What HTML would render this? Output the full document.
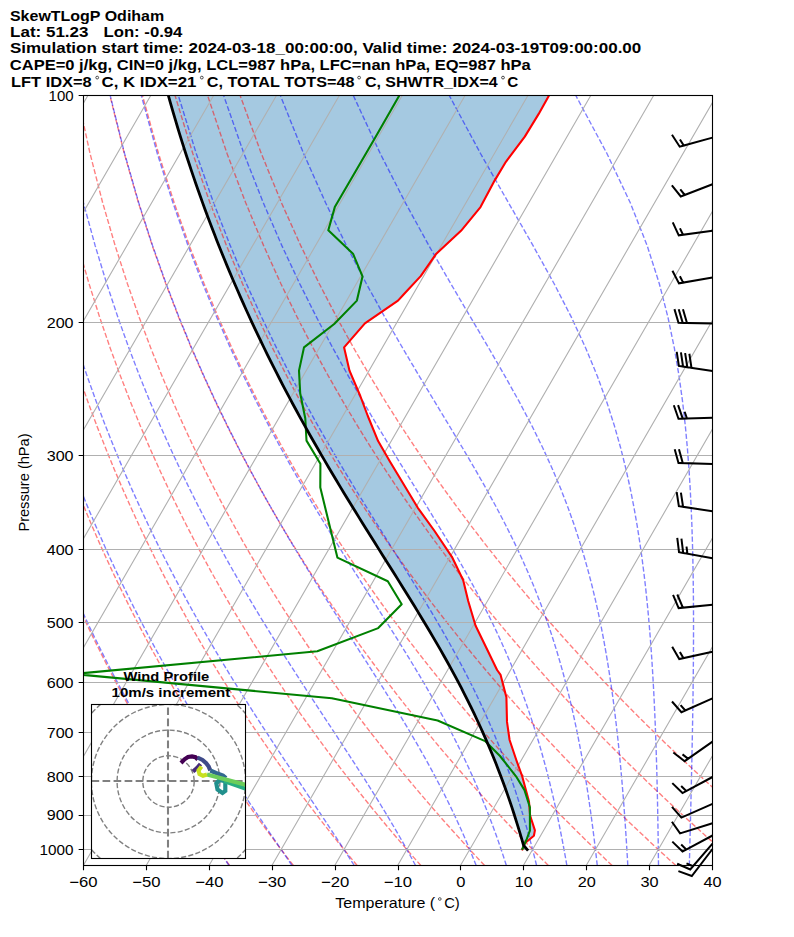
<!DOCTYPE html><html><head><meta charset="utf-8"><style>html,body{margin:0;padding:0;background:#fff;width:794px;height:937px;overflow:hidden}</style></head><body><svg width="794" height="937" viewBox="0 0 794 937" style="position:absolute;left:0;top:0"><defs><clipPath id="ax"><rect x="83.5" y="95.5" width="629" height="770"/></clipPath><clipPath id="hx"><rect x="91.5" y="704.5" width="154" height="154"/></clipPath></defs><rect width="794" height="937" fill="#fff"/><g clip-path="url(#ax)"><polygon points="549.3,95 538.7,113.9 524.8,136.6 505.9,161.8 494.6,180.6 480.5,207.1 461,230.8 435.8,254.3 420.7,276.1 403.6,294.5 398,300.6 364.9,323.4 344.1,347.4 349.5,370.7 360.3,396 367.8,416 378.1,441.1 389.9,461.5 417.8,507.8 434.2,530.5 451.9,556.8 463.2,580.2 468.2,601 475.5,625.5 497.1,670 500.6,674.9 506.4,697.3 507,721.9 509.6,740 516.3,760 520.5,771.7 522.1,776 529,801.6 530.1,815.5 534.9,830.4 533.9,835.7 524.8,843.2 522.4,849.4 527.18,849.52 523.49,845.24 521.69,838.94 519.83,832.64 517.93,826.34 515.97,820.04 513.97,813.74 511.91,807.44 509.79,801.14 507.62,794.84 505.39,788.53 503.1,782.23 500.75,775.93 498.34,769.63 495.87,763.33 493.34,757.03 490.74,750.73 488.08,744.43 485.35,738.13 482.56,731.83 479.71,725.53 476.78,719.23 473.8,712.93 470.75,706.63 467.63,700.33 464.45,694.03 461.21,687.73 457.9,681.43 454.54,675.13 451.12,668.83 447.64,662.53 444.11,656.23 440.53,649.93 436.9,643.63 433.22,637.33 429.5,631.03 425.75,624.73 421.95,618.43 418.12,612.13 414.27,605.83 410.38,599.53 406.48,593.23 402.56,586.92 398.62,580.62 394.67,574.32 390.71,568.02 386.74,561.72 382.78,555.42 378.81,549.12 374.85,542.82 370.9,536.52 366.96,530.22 363.03,523.92 359.11,517.62 355.21,511.32 351.33,505.02 347.47,498.72 343.63,492.42 339.82,486.12 336.03,479.82 332.27,473.52 328.54,467.22 324.84,460.92 321.17,454.62 317.53,448.32 313.92,442.02 310.34,435.72 306.8,429.42 303.29,423.12 299.81,416.82 296.37,410.52 292.96,404.22 289.59,397.92 286.25,391.61 282.95,385.31 279.69,379.01 276.46,372.71 273.27,366.41 270.11,360.11 266.99,353.81 263.9,347.51 260.85,341.21 257.83,334.91 254.85,328.61 251.91,322.31 249,316.01 246.13,309.71 243.29,303.41 240.49,297.11 237.72,290.81 234.99,284.51 232.29,278.21 229.62,271.91 226.99,265.61 224.4,259.31 221.84,253.01 219.31,246.71 216.82,240.41 214.36,234.11 211.93,227.81 209.54,221.51 207.18,215.21 204.85,208.91 202.55,202.61 200.29,196.31 198.06,190 195.86,183.7 193.69,177.4 191.56,171.1 189.46,164.8 187.38,158.5 185.34,152.2 183.34,145.9 181.36,139.6 179.41,133.3 177.49,127 175.61,120.7 173.75,114.4 171.93,108.1 170.13,101.8 168.36,95.5" fill="#1f77b4" fill-opacity="0.4"/><polyline points="229.63,865.5 225.26,859.4 220.86,853.18 216.41,846.84 211.91,840.37 207.38,833.78 202.8,827.05 198.18,820.18 193.51,813.16 188.79,805.99 184.03,798.65 179.21,791.15 174.35,783.48 169.43,775.61 164.46,767.56 159.43,759.3 154.35,750.83 149.2,742.13 144,733.2 138.73,724.02 133.4,714.57 128.01,704.84 122.55,694.81 117.01,684.46 111.41,673.78 105.73,662.74 99.97,651.31 94.14,639.47 88.22,627.18 82.22,614.42 76.14,601.14 69.96,587.29 63.69,572.84 57.34,557.72 50.88,541.86 44.33,525.2 37.68,507.64 30.93,489.09 24.08,469.43 17.13,448.51 10.08,426.16 2.95,402.17 -4.25,376.29 -11.52,348.18 -18.82,317.43 -26.1,283.5 -33.31,245.63 -40.32,202.81 -46.95,153.53 -52.87,95.5" fill="none" stroke="#ff0000" stroke-opacity="0.5" stroke-width="1.39" stroke-dasharray="5.14,2.22"/><polyline points="293.38,865.5 288.67,859.4 283.92,853.18 279.12,846.84 274.27,840.37 269.38,833.78 264.44,827.05 259.45,820.18 254.41,813.16 249.31,805.99 244.16,798.65 238.95,791.15 233.69,783.48 228.36,775.61 222.98,767.56 217.53,759.3 212.02,750.83 206.44,742.13 200.79,733.2 195.07,724.02 189.28,714.57 183.41,704.84 177.47,694.81 171.44,684.46 165.33,673.78 159.13,662.74 152.85,651.31 146.47,639.47 140,627.18 133.42,614.42 126.75,601.14 119.97,587.29 113.07,572.84 106.07,557.72 98.94,541.86 91.7,525.2 84.32,507.64 76.82,489.09 69.19,469.43 61.43,448.51 53.53,426.16 45.5,402.17 37.34,376.29 29.07,348.18 20.7,317.43 12.26,283.5 3.81,245.63 -4.56,202.81 -12.7,153.53 -20.31,95.5" fill="none" stroke="#ff0000" stroke-opacity="0.5" stroke-width="1.39" stroke-dasharray="5.14,2.22"/><polyline points="357.12,865.5 352.07,859.4 346.98,853.18 341.83,846.84 336.63,840.37 331.39,833.78 326.08,827.05 320.72,820.18 315.3,813.16 309.83,805.99 304.29,798.65 298.69,791.15 293.03,783.48 287.3,775.61 281.5,767.56 275.63,759.3 269.69,750.83 263.68,742.13 257.59,733.2 251.41,724.02 245.16,714.57 238.82,704.84 232.39,694.81 225.87,684.46 219.26,673.78 212.54,662.74 205.73,651.31 198.8,639.47 191.77,627.18 184.63,614.42 177.36,601.14 169.97,587.29 162.45,572.84 154.8,557.72 147,541.86 139.06,525.2 130.97,507.64 122.72,489.09 114.31,469.43 105.73,448.51 96.98,426.16 88.05,402.17 78.94,376.29 69.66,348.18 60.21,317.43 50.62,283.5 40.92,245.63 31.19,202.81 21.55,153.53 12.25,95.5" fill="none" stroke="#ff0000" stroke-opacity="0.5" stroke-width="1.39" stroke-dasharray="5.14,2.22"/><polyline points="420.86,865.5 415.48,859.4 410.04,853.18 404.54,846.84 399,840.37 393.39,833.78 387.72,827.05 381.99,820.18 376.2,813.16 370.34,805.99 364.42,798.65 358.43,791.15 352.37,783.48 346.23,775.61 340.02,767.56 333.74,759.3 327.37,750.83 320.92,742.13 314.38,733.2 307.75,724.02 301.04,714.57 294.22,704.84 287.31,694.81 280.3,684.46 273.18,673.78 265.95,662.74 258.6,651.31 251.14,639.47 243.55,627.18 235.83,614.42 227.97,601.14 219.97,587.29 211.83,572.84 203.53,557.72 195.06,541.86 186.43,525.2 177.62,507.64 168.62,489.09 159.43,469.43 150.03,448.51 140.42,426.16 130.59,402.17 120.54,376.29 110.25,348.18 99.73,317.43 88.98,283.5 78.04,245.63 66.94,202.81 55.8,153.53 44.81,95.5" fill="none" stroke="#ff0000" stroke-opacity="0.5" stroke-width="1.39" stroke-dasharray="5.14,2.22"/><polyline points="484.6,865.5 478.88,859.4 473.1,853.18 467.26,846.84 461.36,840.37 455.39,833.78 449.36,827.05 443.26,820.18 437.1,813.16 430.86,805.99 424.55,798.65 418.17,791.15 411.71,783.48 405.17,775.61 398.54,767.56 391.84,759.3 385.04,750.83 378.15,742.13 371.17,733.2 364.09,724.02 356.91,714.57 349.63,704.84 342.24,694.81 334.73,684.46 327.1,673.78 319.36,662.74 311.48,651.31 303.47,639.47 295.32,627.18 287.03,614.42 278.58,601.14 269.98,587.29 261.21,572.84 252.26,557.72 243.13,541.86 233.8,525.2 224.27,507.64 214.52,489.09 204.55,469.43 194.33,448.51 183.87,426.16 173.14,402.17 162.13,376.29 150.84,348.18 139.24,317.43 127.34,283.5 115.15,245.63 102.7,202.81 90.05,153.53 77.37,95.5" fill="none" stroke="#ff0000" stroke-opacity="0.5" stroke-width="1.39" stroke-dasharray="5.14,2.22"/><polyline points="548.35,865.5 542.28,859.4 536.16,853.18 529.97,846.84 523.72,840.37 517.39,833.78 511,827.05 504.53,820.18 497.99,813.16 491.38,805.99 484.68,798.65 477.91,791.15 471.05,783.48 464.1,775.61 457.07,767.56 449.94,759.3 442.71,750.83 435.39,742.13 427.97,733.2 420.43,724.02 412.79,714.57 405.03,704.84 397.16,694.81 389.16,684.46 381.03,673.78 372.76,662.74 364.36,651.31 355.81,639.47 347.1,627.18 338.23,614.42 329.2,601.14 319.98,587.29 310.58,572.84 300.99,557.72 291.19,541.86 281.17,525.2 270.92,507.64 260.42,489.09 249.67,469.43 238.64,448.51 227.32,426.16 215.69,402.17 203.73,376.29 191.42,348.18 178.75,317.43 165.7,283.5 152.27,245.63 138.45,202.81 124.3,153.53 109.92,95.5" fill="none" stroke="#ff0000" stroke-opacity="0.5" stroke-width="1.39" stroke-dasharray="5.14,2.22"/><polyline points="612.09,865.5 605.69,859.4 599.22,853.18 592.68,846.84 586.08,840.37 579.39,833.78 572.64,827.05 565.81,820.18 558.89,813.16 551.9,805.99 544.82,798.65 537.65,791.15 530.39,783.48 523.04,775.61 515.59,767.56 508.04,759.3 500.39,750.83 492.63,742.13 484.76,733.2 476.77,724.02 468.67,714.57 460.44,704.84 452.08,694.81 443.59,684.46 434.95,673.78 426.17,662.74 417.23,651.31 408.14,639.47 398.88,627.18 389.43,614.42 379.81,601.14 369.99,587.29 359.96,572.84 349.72,557.72 339.25,541.86 328.53,525.2 317.56,507.64 306.32,489.09 294.78,469.43 282.94,448.51 270.76,426.16 258.23,402.17 245.33,376.29 232.01,348.18 218.27,317.43 204.07,283.5 189.38,245.63 174.2,202.81 158.55,153.53 142.48,95.5" fill="none" stroke="#ff0000" stroke-opacity="0.5" stroke-width="1.39" stroke-dasharray="5.14,2.22"/><polyline points="675.83,865.5 669.09,859.4 662.28,853.18 655.4,846.84 648.44,840.37 641.4,833.78 634.28,827.05 627.08,820.18 619.79,813.16 612.41,805.99 604.95,798.65 597.39,791.15 589.73,783.48 581.97,775.61 574.11,767.56 566.14,759.3 558.06,750.83 549.87,742.13 541.55,733.2 533.11,724.02 524.55,714.57 515.84,704.84 507,694.81 498.02,684.46 488.88,673.78 479.58,662.74 470.11,651.31 460.47,639.47 450.65,627.18 440.64,614.42 430.42,601.14 419.99,587.29 409.34,572.84 398.45,557.72 387.31,541.86 375.9,525.2 364.21,507.64 352.22,489.09 339.9,469.43 327.24,448.51 314.21,426.16 300.78,402.17 286.92,376.29 272.6,348.18 257.78,317.43 242.43,283.5 226.5,245.63 209.96,202.81 192.8,153.53 175.04,95.5" fill="none" stroke="#ff0000" stroke-opacity="0.5" stroke-width="1.39" stroke-dasharray="5.14,2.22"/><polyline points="739.57,865.5 732.5,859.4 725.34,853.18 718.11,846.84 710.8,840.37 703.4,833.78 695.92,827.05 688.35,820.18 680.69,813.16 672.93,805.99 665.08,798.65 657.12,791.15 649.07,783.48 640.91,775.61 632.63,767.56 624.24,759.3 615.74,750.83 607.1,742.13 598.35,733.2 589.45,724.02 580.42,714.57 571.25,704.84 561.93,694.81 552.44,684.46 542.8,673.78 532.98,662.74 522.99,651.31 512.81,639.47 502.43,627.18 491.84,614.42 481.03,601.14 470,587.29 458.72,572.84 447.18,557.72 435.37,541.86 423.27,525.2 410.86,507.64 398.12,489.09 385.02,469.43 371.54,448.51 357.66,426.16 343.33,402.17 328.52,376.29 313.19,348.18 297.3,317.43 280.79,283.5 263.61,245.63 245.71,202.81 227.04,153.53 207.6,95.5" fill="none" stroke="#ff0000" stroke-opacity="0.5" stroke-width="1.39" stroke-dasharray="5.14,2.22"/><polyline points="803.31,865.5 795.9,859.4 788.4,853.18 780.82,846.84 773.16,840.37 765.4,833.78 757.56,827.05 749.62,820.18 741.58,813.16 733.45,805.99 725.21,798.65 716.86,791.15 708.41,783.48 699.84,775.61 691.15,767.56 682.34,759.3 673.41,750.83 664.34,742.13 655.14,733.2 645.79,724.02 636.3,714.57 626.65,704.84 616.85,694.81 606.87,684.46 596.72,673.78 586.39,662.74 575.87,651.31 565.14,639.47 554.2,627.18 543.04,614.42 531.65,601.14 520,587.29 508.1,572.84 495.91,557.72 483.43,541.86 470.64,525.2 457.51,507.64 444.01,489.09 430.14,469.43 415.84,448.51 401.1,426.16 385.87,402.17 370.11,376.29 353.78,348.18 336.81,317.43 319.15,283.5 300.73,245.63 281.47,202.81 261.29,153.53 240.16,95.5" fill="none" stroke="#ff0000" stroke-opacity="0.5" stroke-width="1.39" stroke-dasharray="5.14,2.22"/><polyline points="229.07,865.5 224.93,859.4 220.74,853.18 216.49,846.84 212.18,840.37 207.81,833.78 203.38,827.05 198.89,820.18 194.34,813.16 189.73,805.99 185.06,798.65 180.33,791.15 175.54,783.48 170.68,775.61 165.77,767.56 160.79,759.3 155.74,750.83 150.63,742.13 145.45,733.2 140.21,724.02 134.89,714.57 129.51,704.84 124.05,694.81 118.52,684.46 112.91,673.78 107.23,662.74 101.47,651.31 95.62,639.47 89.7,627.18 83.69,614.42 77.59,601.14 71.4,587.29 65.11,572.84 58.74,557.72 52.26,541.86 45.69,525.2 39.02,507.64 32.25,489.09 25.38,469.43 18.4,448.51 11.34,426.16 4.18,402.17 -3.05,376.29 -10.35,348.18 -17.68,317.43 -25,283.5 -32.24,245.63 -39.29,202.81 -45.96,153.53 -51.93,95.5" fill="none" stroke="#0000ff" stroke-opacity="0.5" stroke-width="1.39" stroke-dasharray="5.14,2.22"/><polyline points="292.01,865.5 287.86,859.4 283.63,853.18 279.32,846.84 274.92,840.37 270.45,833.78 265.89,827.05 261.25,820.18 256.52,813.16 251.71,805.99 246.82,798.65 241.85,791.15 236.79,783.48 231.65,775.61 226.42,767.56 221.11,759.3 215.72,750.83 210.24,742.13 204.67,733.2 199.02,724.02 193.28,714.57 187.45,704.84 181.53,694.81 175.52,684.46 169.41,673.78 163.21,662.74 156.92,651.31 150.52,639.47 144.02,627.18 137.42,614.42 130.71,601.14 123.89,587.29 116.95,572.84 109.9,557.72 102.73,541.86 95.43,525.2 88,507.64 80.45,489.09 72.75,469.43 64.93,448.51 56.96,426.16 48.86,402.17 40.63,376.29 32.27,348.18 23.82,317.43 15.29,283.5 6.74,245.63 -1.74,202.81 -9.99,153.53 -17.74,95.5" fill="none" stroke="#0000ff" stroke-opacity="0.5" stroke-width="1.39" stroke-dasharray="5.14,2.22"/><polyline points="354.23,865.5 350.35,859.4 346.36,853.18 342.27,846.84 338.06,840.37 333.74,833.78 329.3,827.05 324.75,820.18 320.09,813.16 315.31,805.99 310.41,798.65 305.39,791.15 300.26,783.48 295,775.61 289.63,767.56 284.14,759.3 278.53,750.83 272.8,742.13 266.95,733.2 260.98,724.02 254.89,714.57 248.68,704.84 242.35,694.81 235.9,684.46 229.33,673.78 222.64,662.74 215.82,651.31 208.87,639.47 201.8,627.18 194.59,614.42 187.25,601.14 179.78,587.29 172.16,572.84 164.4,557.72 156.49,541.86 148.42,525.2 140.2,507.64 131.81,489.09 123.24,469.43 114.5,448.51 105.58,426.16 96.47,402.17 87.18,376.29 77.7,348.18 68.04,317.43 58.22,283.5 48.27,245.63 38.27,202.81 28.33,153.53 18.7,95.5" fill="none" stroke="#0000ff" stroke-opacity="0.5" stroke-width="1.39" stroke-dasharray="5.14,2.22"/><polyline points="415.57,865.5 412.29,859.4 408.89,853.18 405.37,846.84 401.71,840.37 397.93,833.78 394.01,827.05 389.95,820.18 385.74,813.16 381.38,805.99 376.86,798.65 372.19,791.15 367.36,783.48 362.36,775.61 357.19,767.56 351.86,759.3 346.35,750.83 340.67,742.13 334.81,733.2 328.78,724.02 322.57,714.57 316.19,704.84 309.63,694.81 302.89,684.46 295.98,673.78 288.89,662.74 281.62,651.31 274.18,639.47 266.57,627.18 258.77,614.42 250.8,601.14 242.65,587.29 234.31,572.84 225.79,557.72 217.08,541.86 208.17,525.2 199.06,507.64 189.74,489.09 180.2,469.43 170.44,448.51 160.44,426.16 150.2,402.17 139.71,376.29 128.96,348.18 117.94,317.43 106.67,283.5 95.15,245.63 83.43,202.81 71.59,153.53 59.82,95.5" fill="none" stroke="#0000ff" stroke-opacity="0.5" stroke-width="1.39" stroke-dasharray="5.14,2.22"/><polyline points="476.18,865.5 473.76,859.4 471.24,853.18 468.6,846.84 465.85,840.37 462.98,833.78 459.97,827.05 456.83,820.18 453.54,813.16 450.1,805.99 446.5,798.65 442.73,791.15 438.77,783.48 434.63,775.61 430.29,767.56 425.74,759.3 420.98,750.83 415.98,742.13 410.76,733.2 405.29,724.02 399.56,714.57 393.58,704.84 387.34,694.81 380.82,684.46 374.04,673.78 366.97,662.74 359.63,651.31 352.01,639.47 344.11,627.18 335.94,614.42 327.48,601.14 318.75,587.29 309.75,572.84 300.47,557.72 290.92,541.86 281.09,525.2 270.98,507.64 260.59,489.09 249.91,469.43 238.92,448.51 227.63,426.16 216.02,402.17 204.07,376.29 191.76,348.18 179.09,317.43 166.03,283.5 152.58,245.63 138.75,202.81 124.59,153.53 110.2,95.5" fill="none" stroke="#0000ff" stroke-opacity="0.5" stroke-width="1.39" stroke-dasharray="5.14,2.22"/><polyline points="506.37,865.5 504.42,859.4 502.38,853.18 500.24,846.84 498.01,840.37 495.67,833.78 493.22,827.05 490.65,820.18 487.96,813.16 485.12,805.99 482.14,798.65 479,791.15 475.7,783.48 472.22,775.61 468.55,767.56 464.67,759.3 460.58,750.83 456.27,742.13 451.71,733.2 446.89,724.02 441.8,714.57 436.43,704.84 430.75,694.81 424.77,684.46 418.46,673.78 411.81,662.74 404.82,651.31 397.47,639.47 389.76,627.18 381.69,614.42 373.26,601.14 364.46,587.29 355.29,572.84 345.76,557.72 335.87,541.86 325.63,525.2 315.03,507.64 304.07,489.09 292.76,469.43 281.08,448.51 269.02,426.16 256.59,402.17 243.75,376.29 230.5,348.18 216.81,317.43 202.65,283.5 188.02,245.63 172.89,202.81 157.29,153.53 141.29,95.5" fill="none" stroke="#0000ff" stroke-opacity="0.5" stroke-width="1.39" stroke-dasharray="5.14,2.22"/><polyline points="536.58,865.5 535.08,859.4 533.52,853.18 531.89,846.84 530.17,840.37 528.38,833.78 526.49,827.05 524.51,820.18 522.43,813.16 520.23,805.99 517.92,798.65 515.48,791.15 512.89,783.48 510.16,775.61 507.27,767.56 504.2,759.3 500.94,750.83 497.48,742.13 493.79,733.2 489.87,724.02 485.69,714.57 481.23,704.84 476.47,694.81 471.39,684.46 465.96,673.78 460.16,662.74 453.97,651.31 447.37,639.47 440.33,627.18 432.84,614.42 424.87,601.14 416.43,587.29 407.49,572.84 398.05,557.72 388.11,541.86 377.67,525.2 366.74,507.64 355.32,489.09 343.42,469.43 331.04,448.51 318.18,426.16 304.83,402.17 290.99,376.29 276.64,348.18 261.75,317.43 246.3,283.5 230.25,245.63 213.58,202.81 196.26,153.53 178.34,95.5" fill="none" stroke="#0000ff" stroke-opacity="0.5" stroke-width="1.39" stroke-dasharray="5.14,2.22"/><polyline points="566.86,865.5 565.8,859.4 564.68,853.18 563.52,846.84 562.3,840.37 561.01,833.78 559.67,827.05 558.25,820.18 556.76,813.16 555.18,805.99 553.52,798.65 551.76,791.15 549.9,783.48 547.93,775.61 545.83,767.56 543.6,759.3 541.23,750.83 538.69,742.13 535.98,733.2 533.08,724.02 529.96,714.57 526.61,704.84 523.01,694.81 519.13,684.46 514.94,673.78 510.41,662.74 505.51,651.31 500.19,639.47 494.43,627.18 488.18,614.42 481.41,601.14 474.06,587.29 466.1,572.84 457.49,557.72 448.21,541.86 438.24,525.2 427.54,507.64 416.13,489.09 404,469.43 391.16,448.51 377.62,426.16 363.39,402.17 348.48,376.29 332.89,348.18 316.61,317.43 299.61,283.5 281.86,245.63 263.31,202.81 243.91,153.53 223.63,95.5" fill="none" stroke="#0000ff" stroke-opacity="0.5" stroke-width="1.39" stroke-dasharray="5.14,2.22"/><polyline points="597.26,865.5 596.58,859.4 595.87,853.18 595.13,846.84 594.34,840.37 593.52,833.78 592.66,827.05 591.75,820.18 590.79,813.16 589.78,805.99 588.71,798.65 587.58,791.15 586.38,783.48 585.1,775.61 583.75,767.56 582.3,759.3 580.75,750.83 579.09,742.13 577.32,733.2 575.41,724.02 573.35,714.57 571.14,704.84 568.74,694.81 566.13,684.46 563.3,673.78 560.22,662.74 556.85,651.31 553.15,639.47 549.1,627.18 544.63,614.42 539.7,601.14 534.24,587.29 528.19,572.84 521.48,557.72 514.02,541.86 505.74,525.2 496.56,507.64 486.4,489.09 475.2,469.43 462.91,448.51 449.51,426.16 435,402.17 419.39,376.29 402.71,348.18 384.99,317.43 366.25,283.5 346.46,245.63 325.6,202.81 303.61,153.53 280.39,95.5" fill="none" stroke="#0000ff" stroke-opacity="0.5" stroke-width="1.39" stroke-dasharray="5.14,2.22"/><polyline points="627.81,865.5 627.46,859.4 627.09,853.18 626.71,846.84 626.31,840.37 625.88,833.78 625.43,827.05 624.96,820.18 624.46,813.16 623.93,805.99 623.37,798.65 622.77,791.15 622.13,783.48 621.45,775.61 620.72,767.56 619.94,759.3 619.11,750.83 618.21,742.13 617.24,733.2 616.19,724.02 615.06,714.57 613.83,704.84 612.5,694.81 611.04,684.46 609.44,673.78 607.69,662.74 605.76,651.31 603.63,639.47 601.26,627.18 598.63,614.42 595.7,601.14 592.4,587.29 588.69,572.84 584.49,557.72 579.72,541.86 574.27,525.2 568.03,507.64 560.86,489.09 552.59,469.43 543.06,448.51 532.07,426.16 519.46,402.17 505.06,376.29 488.81,348.18 470.66,317.43 450.67,283.5 428.9,245.63 405.42,202.81 380.25,153.53 353.32,95.5" fill="none" stroke="#0000ff" stroke-opacity="0.5" stroke-width="1.39" stroke-dasharray="5.14,2.22"/><polyline points="658.5,865.5 658.43,859.4 658.35,853.18 658.27,846.84 658.18,840.37 658.08,833.78 657.98,827.05 657.86,820.18 657.73,813.16 657.6,805.99 657.45,798.65 657.28,791.15 657.1,783.48 656.91,775.61 656.69,767.56 656.45,759.3 656.18,750.83 655.89,742.13 655.57,733.2 655.22,724.02 654.82,714.57 654.38,704.84 653.89,694.81 653.34,684.46 652.73,673.78 652.04,662.74 651.27,651.31 650.4,639.47 649.42,627.18 648.3,614.42 647.02,601.14 645.57,587.29 643.89,572.84 641.96,557.72 639.71,541.86 637.09,525.2 634.01,507.64 630.37,489.09 626.03,469.43 620.82,448.51 614.51,426.16 606.82,402.17 597.39,376.29 585.77,348.18 571.47,317.43 554.02,283.5 533.07,245.63 508.52,202.81 480.51,153.53 449.28,95.5" fill="none" stroke="#0000ff" stroke-opacity="0.5" stroke-width="1.39" stroke-dasharray="5.14,2.22"/><polyline points="689.33,865.5 689.49,859.4 689.64,853.18 689.8,846.84 689.96,840.37 690.13,833.78 690.3,827.05 690.47,820.18 690.64,813.16 690.81,805.99 690.99,798.65 691.16,791.15 691.34,783.48 691.52,775.61 691.7,767.56 691.88,759.3 692.05,750.83 692.23,742.13 692.4,733.2 692.57,724.02 692.73,714.57 692.88,704.84 693.03,694.81 693.16,684.46 693.28,673.78 693.38,662.74 693.46,651.31 693.51,639.47 693.53,627.18 693.51,614.42 693.44,601.14 693.31,587.29 693.11,572.84 692.82,557.72 692.42,541.86 691.88,525.2 691.16,507.64 690.22,489.09 689,469.43 687.41,448.51 685.35,426.16 682.65,402.17 679.1,376.29 674.37,348.18 667.99,317.43 659.27,283.5 647.17,245.63 630.29,202.81 606.93,153.53 575.8,95.5" fill="none" stroke="#0000ff" stroke-opacity="0.5" stroke-width="1.39" stroke-dasharray="5.14,2.22"/><polyline points="720.29,865.5 720.62,859.4 720.96,853.18 721.31,846.84 721.67,840.37 722.04,833.78 722.42,827.05 722.81,820.18 723.21,813.16 723.62,805.99 724.04,798.65 724.48,791.15 724.93,783.48 725.39,775.61 725.87,767.56 726.36,759.3 726.86,750.83 727.39,742.13 727.92,733.2 728.47,724.02 729.04,714.57 729.63,704.84 730.23,694.81 730.85,684.46 731.5,673.78 732.16,662.74 732.83,651.31 733.53,639.47 734.25,627.18 734.99,614.42 735.74,601.14 736.51,587.29 737.3,572.84 738.1,557.72 738.91,541.86 739.72,525.2 740.53,507.64 741.32,489.09 742.08,469.43 742.8,448.51 743.43,426.16 743.93,402.17 744.24,376.29 744.25,348.18 743.8,317.43 742.63,283.5 740.32,245.63 736.09,202.81 728.5,153.53 714.78,95.5" fill="none" stroke="#0000ff" stroke-opacity="0.5" stroke-width="1.39" stroke-dasharray="5.14,2.22"/><polyline points="751.37,865.5 751.83,859.4 752.31,853.18 752.8,846.84 753.31,840.37 753.83,833.78 754.37,827.05 754.92,820.18 755.49,813.16 756.08,805.99 756.69,798.65 757.32,791.15 757.97,783.48 758.64,775.61 759.34,767.56 760.06,759.3 760.8,750.83 761.57,742.13 762.37,733.2 763.2,724.02 764.06,714.57 764.95,704.84 765.88,694.81 766.84,684.46 767.84,673.78 768.89,662.74 769.98,651.31 771.12,639.47 772.31,627.18 773.55,614.42 774.86,601.14 776.22,587.29 777.65,572.84 779.16,557.72 780.74,541.86 782.41,525.2 784.17,507.64 786.02,489.09 787.98,469.43 790.06,448.51 792.26,426.16 794.59,402.17 797.05,376.29 799.66,348.18 802.4,317.43 805.25,283.5 808.17,245.63 811.03,202.81 813.57,153.53 815.15,95.5" fill="none" stroke="#0000ff" stroke-opacity="0.5" stroke-width="1.39" stroke-dasharray="5.14,2.22"/><polyline points="782.54,865.5 783.1,859.4 783.68,853.18 784.28,846.84 784.89,840.37 785.52,833.78 786.18,827.05 786.85,820.18 787.54,813.16 788.26,805.99 789,798.65 789.77,791.15 790.56,783.48 791.38,775.61 792.23,767.56 793.11,759.3 794.02,750.83 794.97,742.13 795.95,733.2 796.97,724.02 798.03,714.57 799.13,704.84 800.28,694.81 801.48,684.46 802.73,673.78 804.04,662.74 805.41,651.31 806.84,639.47 808.35,627.18 809.92,614.42 811.59,601.14 813.34,587.29 815.19,572.84 817.14,557.72 819.21,541.86 821.41,525.2 823.76,507.64 826.26,489.09 828.95,469.43 831.83,448.51 834.94,426.16 838.32,402.17 841.99,376.29 846,348.18 850.43,317.43 855.33,283.5 860.81,245.63 866.99,202.81 874.03,153.53 882.12,95.5" fill="none" stroke="#0000ff" stroke-opacity="0.5" stroke-width="1.39" stroke-dasharray="5.14,2.22"/><path d="M-796.7 865.5L-352.14 95.5M-733.84 865.5L-289.28 95.5M-670.98 865.5L-226.42 95.5M-608.12 865.5L-163.56 95.5M-545.26 865.5L-100.7 95.5M-482.4 865.5L-37.84 95.5M-419.54 865.5L25.02 95.5M-356.68 865.5L87.88 95.5M-293.82 865.5L150.74 95.5M-230.96 865.5L213.6 95.5M-168.1 865.5L276.46 95.5M-105.24 865.5L339.32 95.5M-42.38 865.5L402.18 95.5M20.48 865.5L465.04 95.5M83.34 865.5L527.9 95.5M146.2 865.5L590.76 95.5M209.06 865.5L653.62 95.5M271.92 865.5L716.48 95.5M334.78 865.5L779.34 95.5M397.64 865.5L842.2 95.5M460.5 865.5L905.06 95.5M523.36 865.5L967.92 95.5M586.22 865.5L1030.78 95.5M649.08 865.5L1093.64 95.5M711.94 865.5L1156.5 95.5M83.5 95.5H712.5M83.5 322.5H712.5M83.5 455.5H712.5M83.5 549.5H712.5M83.5 622.5H712.5M83.5 682.5H712.5M83.5 732.5H712.5M83.5 776.5H712.5M83.5 815.5H712.5M83.5 849.5H712.5" stroke="#b0b0b0" stroke-width="1.11" fill="none"/><polyline points="549.3,95 538.7,113.9 524.8,136.6 505.9,161.8 494.6,180.6 480.5,207.1 461,230.8 435.8,254.3 420.7,276.1 403.6,294.5 398,300.6 364.9,323.4 344.1,347.4 349.5,370.7 360.3,396 367.8,416 378.1,441.1 389.9,461.5 417.8,507.8 434.2,530.5 451.9,556.8 463.2,580.2 468.2,601 475.5,625.5 497.1,670 500.6,674.9 506.4,697.3 507,721.9 509.6,740 516.3,760 520.5,771.7 522.1,776 529,801.6 530.1,815.5 534.9,830.4 533.9,835.7 524.8,843.2 522.4,849.4" fill="none" stroke="#ff0000" stroke-width="2.08" stroke-linejoin="round" stroke-linecap="square"/><polyline points="399.6,95 374.4,139.1 334.8,207.1 328.3,230.3 353,253.7 362.5,276.4 356.9,300.6 334.2,324 304,347.4 299,370.6 300.2,393.3 305.3,418.5 306.5,440.6 320.4,463.8 320.3,487.6 337.4,557.6 387.8,581.3 401.7,604.2 378.2,628.1 317.3,651.3 74,674 331.8,698.3 437.6,720.5 485.1,741.1 500,756 516,776.3 524.5,790.1 529.9,807.2 529.9,830.7 526.7,839.2 522.4,848.8" fill="none" stroke="#008000" stroke-width="2.08" stroke-linejoin="round" stroke-linecap="square"/><polyline points="527.18,849.52 523.49,845.24 521.69,838.94 519.83,832.64 517.93,826.34 515.97,820.04 513.97,813.74 511.91,807.44 509.79,801.14 507.62,794.84 505.39,788.53 503.1,782.23 500.75,775.93 498.34,769.63 495.87,763.33 493.34,757.03 490.74,750.73 488.08,744.43 485.35,738.13 482.56,731.83 479.71,725.53 476.78,719.23 473.8,712.93 470.75,706.63 467.63,700.33 464.45,694.03 461.21,687.73 457.9,681.43 454.54,675.13 451.12,668.83 447.64,662.53 444.11,656.23 440.53,649.93 436.9,643.63 433.22,637.33 429.5,631.03 425.75,624.73 421.95,618.43 418.12,612.13 414.27,605.83 410.38,599.53 406.48,593.23 402.56,586.92 398.62,580.62 394.67,574.32 390.71,568.02 386.74,561.72 382.78,555.42 378.81,549.12 374.85,542.82 370.9,536.52 366.96,530.22 363.03,523.92 359.11,517.62 355.21,511.32 351.33,505.02 347.47,498.72 343.63,492.42 339.82,486.12 336.03,479.82 332.27,473.52 328.54,467.22 324.84,460.92 321.17,454.62 317.53,448.32 313.92,442.02 310.34,435.72 306.8,429.42 303.29,423.12 299.81,416.82 296.37,410.52 292.96,404.22 289.59,397.92 286.25,391.61 282.95,385.31 279.69,379.01 276.46,372.71 273.27,366.41 270.11,360.11 266.99,353.81 263.9,347.51 260.85,341.21 257.83,334.91 254.85,328.61 251.91,322.31 249,316.01 246.13,309.71 243.29,303.41 240.49,297.11 237.72,290.81 234.99,284.51 232.29,278.21 229.62,271.91 226.99,265.61 224.4,259.31 221.84,253.01 219.31,246.71 216.82,240.41 214.36,234.11 211.93,227.81 209.54,221.51 207.18,215.21 204.85,208.91 202.55,202.61 200.29,196.31 198.06,190 195.86,183.7 193.69,177.4 191.56,171.1 189.46,164.8 187.38,158.5 185.34,152.2 183.34,145.9 181.36,139.6 179.41,133.3 177.49,127 175.61,120.7 173.75,114.4 171.93,108.1 170.13,101.8 168.36,95.5" fill="none" stroke="#000" stroke-width="2.78" stroke-linejoin="round" stroke-linecap="square"/></g><path d="M712.5 137.6 L679.71 146.68 L671.98 134.69 L679.71 146.68 L683.8 145.54 L679.94 139.55 L683.8 145.54 L712.5 137.6M712.5 184.2 L680.76 196.46 L671.89 185.3 L680.76 196.46 L684.73 194.93 L680.29 189.35 L684.73 194.93 L712.5 184.2M712.5 230.8 L678.77 235.32 L672.75 222.4 L678.77 235.32 L682.99 234.76 L679.98 228.3 L682.99 234.76 L712.5 230.8M712.5 277.5 L678.98 283.36 L672.45 270.69 L678.98 283.36 L683.17 282.63 L679.9 276.29 L683.17 282.63 L712.5 277.5M712.5 323.4 L678.48 322.82 L674.45 309.14 L678.48 322.82 L682.73 322.9 L678.71 309.21 L682.73 322.9 L686.98 322.97 L682.96 309.29 L686.98 322.97 L712.5 323.4M712.5 371.1 L678.87 365.93 L676.73 351.83 L678.87 365.93 L683.07 366.57 L680.94 352.47 L683.07 366.57 L687.28 367.22 L685.14 353.12 L687.28 367.22 L691.48 367.87 L689.35 353.77 L691.48 367.87 L712.5 371.1M712.5 417.7 L678.49 418.76 L673.81 405.28 L678.49 418.76 L682.74 418.62 L678.07 405.15 L682.74 418.62 L686.99 418.49 L684.65 411.76 L686.99 418.49 L712.5 417.7M712.5 464.1 L678.49 462.94 L674.71 449.19 L678.49 462.94 L682.74 463.08 L678.96 449.33 L682.74 463.08 L712.5 464.1M712.5 511.3 L678.86 506.18 L676.7 492.08 L678.86 506.18 L683.07 506.82 L680.91 492.72 L683.07 506.82 L712.5 511.3M712.5 558.2 L679.02 552.14 L677.26 537.99 L679.02 552.14 L683.2 552.9 L681.44 538.74 L683.2 552.9 L687.39 553.65 L686.51 546.58 L687.39 553.65 L712.5 558.2M712.5 604.7 L678.64 608.06 L673.06 594.93 L678.64 608.06 L682.87 607.64 L677.3 594.51 L682.87 607.64 L712.5 604.7M712.5 651.7 L679.27 659.03 L672.19 646.65 L679.27 659.03 L683.42 658.11 L679.88 651.93 L683.42 658.11 L712.5 651.7M712.5 698.4 L681.4 712.21 L671.99 701.5 L681.4 712.21 L685.29 710.48 L680.58 705.13 L685.29 710.48 L712.5 698.4M712.5 741.6 L684.66 761.17 L673.35 752.48 L684.66 761.17 L688.14 758.72 L682.49 754.38 L688.14 758.72 L712.5 741.6M712.5 777 L682.51 793.07 L672.33 783.09 L682.51 793.07 L686.26 791.06 L681.17 786.07 L686.26 791.06 L712.5 777M712.5 803.9 L681.38 817.66 L671.98 806.93 L681.38 817.66 L712.5 803.9M712.5 823.2 L680.05 833.43 L671.9 821.72 L680.05 833.43 L712.5 823.2M712.5 835.5 L682.51 851.57 L672.33 841.59 L682.51 851.57 L686.26 849.56 L681.17 844.57 L686.26 849.56 L712.5 835.5M712.5 843.7 L690.24 869.44 L677.16 863.75 L690.24 869.44 L693.02 866.22 L686.48 863.38 L693.02 866.22 L712.5 843.7M712.5 849 L691.8 876.01 L678.41 871.1 L691.8 876.01 L712.5 849" fill="none" stroke="#000" stroke-width="2" stroke-linejoin="miter"/><rect x="83.5" y="95.5" width="629" height="770" fill="none" stroke="#000" stroke-width="1.11"/><path d="M83.5 95.5h-4.86M83.5 322.5h-4.86M83.5 455.5h-4.86M83.5 549.5h-4.86M83.5 622.5h-4.86M83.5 682.5h-4.86M83.5 732.5h-4.86M83.5 776.5h-4.86M83.5 815.5h-4.86M83.5 849.5h-4.86M83.5 865.5v4.86M146.5 865.5v4.86M209.5 865.5v4.86M272.5 865.5v4.86M335.5 865.5v4.86M398.5 865.5v4.86M460.5 865.5v4.86M523.5 865.5v4.86M586.5 865.5v4.86M649.5 865.5v4.86M712.5 865.5v4.86" stroke="#000" stroke-width="1.11"/><rect x="91.5" y="704.5" width="154" height="154" fill="#fff"/><g clip-path="url(#hx)"><circle cx="168.5" cy="781.5" r="25.7" fill="none" stroke="#808080" stroke-width="1.39" stroke-dasharray="5.14,2.22"/><circle cx="168.5" cy="781.5" r="51.4" fill="none" stroke="#808080" stroke-width="1.39" stroke-dasharray="5.14,2.22"/><circle cx="168.5" cy="781.5" r="77.1" fill="none" stroke="#808080" stroke-width="1.39" stroke-dasharray="5.14,2.22"/><circle cx="168.5" cy="781.5" r="102.8" fill="none" stroke="#808080" stroke-width="1.39" stroke-dasharray="5.14,2.22"/><path d="M91.5 781H245.5M168 858.5V704.5" stroke="#808080" stroke-width="2.08" stroke-dasharray="7.7,3.33"/><polyline points="181,763 184.5,759.3 188,757 192,756.4 195.5,757.2 197.8,759.5" fill="none" stroke="#440154" stroke-width="4.17" stroke-linejoin="miter" stroke-linecap="butt"/><polyline points="200.5,764 197,768 193,771.5" fill="none" stroke="#472a7a" stroke-width="4.17" stroke-linejoin="miter" stroke-linecap="butt"/><polyline points="197.5,757.5 202.5,760 206.2,763.2 208.7,766.6 210.3,770.5" fill="none" stroke="#3e4a89" stroke-width="4.17" stroke-linejoin="miter" stroke-linecap="butt"/><polyline points="210.3,770.5 216,773 223,775.5 226,778" fill="none" stroke="#31688e" stroke-width="4.17" stroke-linejoin="miter" stroke-linecap="butt"/><polyline points="225.3,778 225.3,791 222.5,793 217.5,789.5 216.3,783.5 219.5,780 224,781" fill="none" stroke="#21908d" stroke-width="4.17" stroke-linejoin="miter" stroke-linecap="butt"/><polyline points="224,781 252,791" fill="none" stroke="#28ae80" stroke-width="4.17" stroke-linejoin="miter" stroke-linecap="butt"/><polyline points="252,786.5 207,774.5" fill="none" stroke="#6ccd5a" stroke-width="4.17" stroke-linejoin="miter" stroke-linecap="butt"/><polyline points="207,774.5 203,775.8 199.5,774 198.5,770.5 201.5,766.5" fill="none" stroke="#c8e020" stroke-width="4.17" stroke-linejoin="miter" stroke-linecap="butt"/></g><rect x="91.5" y="704.5" width="154" height="154" fill="none" stroke="#000" stroke-width="1.11"/><circle cx="97.2" cy="77.6" r="1.4" fill="none" stroke="#222" stroke-width="0.8"/><circle cx="201.8" cy="77.6" r="1.4" fill="none" stroke="#222" stroke-width="0.8"/><circle cx="359.1" cy="77.6" r="1.4" fill="none" stroke="#222" stroke-width="0.8"/><circle cx="503" cy="77.6" r="1.4" fill="none" stroke="#222" stroke-width="0.8"/><circle cx="439.8" cy="899" r="1.35" fill="none" stroke="#333" stroke-width="0.8"/><text id="t1" x="9.95" y="21" font-family="Liberation Sans, sans-serif" font-size="14.7" font-weight="bold" textLength="154.25" lengthAdjust="spacingAndGlyphs">SkewTLogP Odiham</text><text id="t2a" x="10.1" y="36.7" font-family="Liberation Sans, sans-serif" font-size="14.7" font-weight="bold" textLength="78.4" lengthAdjust="spacingAndGlyphs">Lat: 51.23</text><text id="t2b" x="103.5" y="36.7" font-family="Liberation Sans, sans-serif" font-size="14.7" font-weight="bold" textLength="78.9" lengthAdjust="spacingAndGlyphs">Lon: -0.94</text><text id="t3" x="9.95" y="52.8" font-family="Liberation Sans, sans-serif" font-size="14.7" font-weight="bold" textLength="631.35" lengthAdjust="spacingAndGlyphs">Simulation start time: 2024-03-18_00:00:00, Valid time: 2024-03-19T09:00:00.00</text><text id="t4" x="9.8" y="69.8" font-family="Liberation Sans, sans-serif" font-size="14.7" font-weight="bold" textLength="520.9" lengthAdjust="spacingAndGlyphs">CAPE=0 j/kg, CIN=0 j/kg, LCL=987 hPa, LFC=nan hPa, EQ=987 hPa</text><text id="t5a" x="11" y="87" font-family="Liberation Sans, sans-serif" font-size="14.7" font-weight="bold" textLength="80.7" lengthAdjust="spacingAndGlyphs">LFT IDX=8</text><text id="t5b" x="101.5" y="87" font-family="Liberation Sans, sans-serif" font-size="14.7" font-weight="bold" textLength="94.9" lengthAdjust="spacingAndGlyphs">C, K IDX=21</text><text id="t5c" x="206.8" y="87" font-family="Liberation Sans, sans-serif" font-size="14.7" font-weight="bold" textLength="147.7" lengthAdjust="spacingAndGlyphs">C, TOTAL TOTS=48</text><text id="t5d" x="364.9" y="87" font-family="Liberation Sans, sans-serif" font-size="14.7" font-weight="bold" textLength="132.8" lengthAdjust="spacingAndGlyphs">C, SHWTR_IDX=4</text><text id="t5e" x="507.3" y="87" font-family="Liberation Sans, sans-serif" font-size="14.7" font-weight="bold" textLength="11" lengthAdjust="spacingAndGlyphs">C</text><text id="h1" x="123.5" y="681.4" font-family="Liberation Sans, sans-serif" font-size="12.9" font-weight="bold" textLength="85.8" lengthAdjust="spacingAndGlyphs">Wind Profile</text><text id="h2" x="111.6" y="696.7" font-family="Liberation Sans, sans-serif" font-size="12.9" font-weight="bold" textLength="118.6" lengthAdjust="spacingAndGlyphs">10m/s increment</text><text id="xl1" x="335.3" y="907.7" font-family="Liberation Sans, sans-serif" font-size="14.6" font-weight="normal" textLength="99.8" lengthAdjust="spacingAndGlyphs">Temperature (</text><text id="xl2" x="444.2" y="907.7" font-family="Liberation Sans, sans-serif" font-size="14.6" font-weight="normal" textLength="15.6" lengthAdjust="spacingAndGlyphs">C)</text><text id="y100" x="48.6" y="100.8" font-family="Liberation Sans, sans-serif" font-size="14.6" font-weight="normal" textLength="25" lengthAdjust="spacingAndGlyphs">100</text><text id="y200" x="46.7" y="327.78" font-family="Liberation Sans, sans-serif" font-size="14.6" font-weight="normal" textLength="26.9" lengthAdjust="spacingAndGlyphs">200</text><text id="y300" x="46.7" y="460.56" font-family="Liberation Sans, sans-serif" font-size="14.6" font-weight="normal" textLength="26.9" lengthAdjust="spacingAndGlyphs">300</text><text id="y400" x="46.7" y="554.77" font-family="Liberation Sans, sans-serif" font-size="14.6" font-weight="normal" textLength="26.9" lengthAdjust="spacingAndGlyphs">400</text><text id="y500" x="46.7" y="627.84" font-family="Liberation Sans, sans-serif" font-size="14.6" font-weight="normal" textLength="26.9" lengthAdjust="spacingAndGlyphs">500</text><text id="y600" x="46.7" y="687.54" font-family="Liberation Sans, sans-serif" font-size="14.6" font-weight="normal" textLength="26.9" lengthAdjust="spacingAndGlyphs">600</text><text id="y700" x="46.7" y="738.02" font-family="Liberation Sans, sans-serif" font-size="14.6" font-weight="normal" textLength="26.9" lengthAdjust="spacingAndGlyphs">700</text><text id="y800" x="46.7" y="781.75" font-family="Liberation Sans, sans-serif" font-size="14.6" font-weight="normal" textLength="26.9" lengthAdjust="spacingAndGlyphs">800</text><text id="y900" x="46.7" y="820.32" font-family="Liberation Sans, sans-serif" font-size="14.6" font-weight="normal" textLength="26.9" lengthAdjust="spacingAndGlyphs">900</text><text id="y1000" x="39.6" y="854.82" font-family="Liberation Sans, sans-serif" font-size="14.6" font-weight="normal" textLength="34" lengthAdjust="spacingAndGlyphs">1000</text><text id="x-60" x="69.35" y="887.1" font-family="Liberation Sans, sans-serif" font-size="14.6" font-weight="normal" textLength="28.3" lengthAdjust="spacingAndGlyphs">−60</text><text id="x-50" x="132.25" y="887.1" font-family="Liberation Sans, sans-serif" font-size="14.6" font-weight="normal" textLength="28.3" lengthAdjust="spacingAndGlyphs">−50</text><text id="x-40" x="195.15" y="887.1" font-family="Liberation Sans, sans-serif" font-size="14.6" font-weight="normal" textLength="28.3" lengthAdjust="spacingAndGlyphs">−40</text><text id="x-30" x="258.05" y="887.1" font-family="Liberation Sans, sans-serif" font-size="14.6" font-weight="normal" textLength="28.3" lengthAdjust="spacingAndGlyphs">−30</text><text id="x-20" x="320.95" y="887.1" font-family="Liberation Sans, sans-serif" font-size="14.6" font-weight="normal" textLength="28.3" lengthAdjust="spacingAndGlyphs">−20</text><text id="x-10" x="383.85" y="887.1" font-family="Liberation Sans, sans-serif" font-size="14.6" font-weight="normal" textLength="28.3" lengthAdjust="spacingAndGlyphs">−10</text><text id="x0" x="456.3" y="887.1" font-family="Liberation Sans, sans-serif" font-size="14.6" font-weight="normal" textLength="9.2" lengthAdjust="spacingAndGlyphs">0</text><text id="x10" x="514.75" y="887.1" font-family="Liberation Sans, sans-serif" font-size="14.6" font-weight="normal" textLength="18.1" lengthAdjust="spacingAndGlyphs">10</text><text id="x20" x="577.65" y="887.1" font-family="Liberation Sans, sans-serif" font-size="14.6" font-weight="normal" textLength="18.1" lengthAdjust="spacingAndGlyphs">20</text><text id="x30" x="640.55" y="887.1" font-family="Liberation Sans, sans-serif" font-size="14.6" font-weight="normal" textLength="18.1" lengthAdjust="spacingAndGlyphs">30</text><text id="x40" x="703.45" y="887.1" font-family="Liberation Sans, sans-serif" font-size="14.6" font-weight="normal" textLength="18.1" lengthAdjust="spacingAndGlyphs">40</text><text id="yl" transform="translate(29.2,531.6) rotate(-90)" x="0" y="0" font-family="Liberation Sans, sans-serif" font-size="14.6" textLength="98.2" lengthAdjust="spacingAndGlyphs">Pressure (hPa)</text></svg></body></html>
